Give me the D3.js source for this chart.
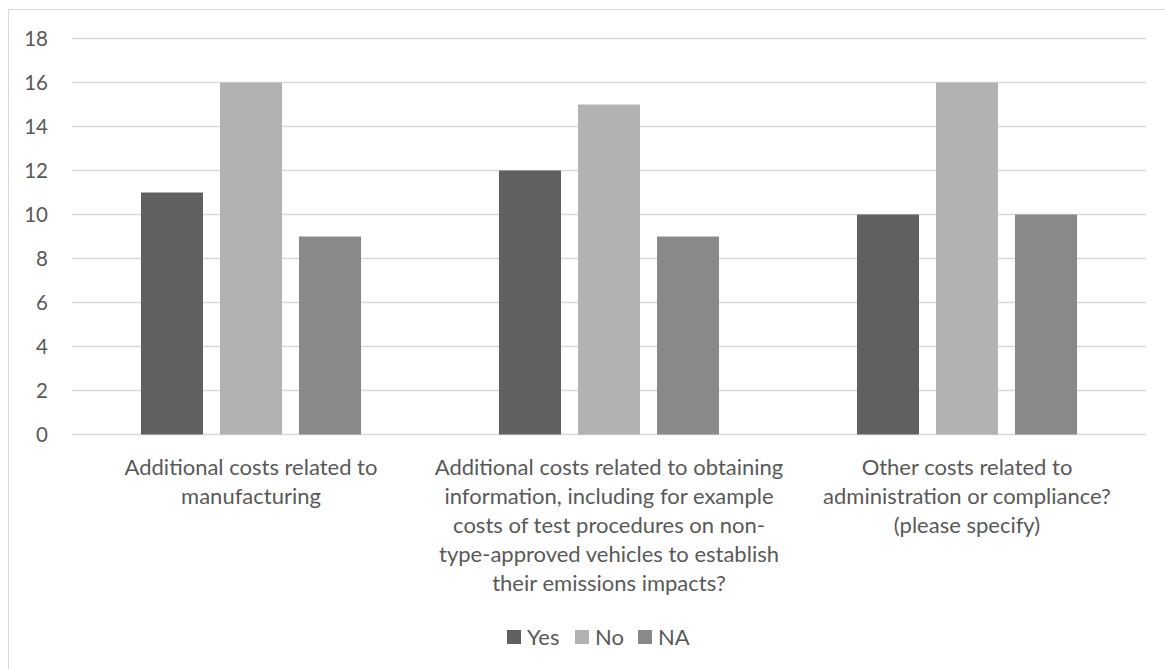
<!DOCTYPE html>
<html><head><meta charset="utf-8">
<script src="https://cdn.jsdelivr.net/npm/d3@7"></script>
<style>body{margin:0;background:#fff}svg{display:block}text{font-family:Lato,"Liberation Sans",sans-serif;fill:#595959}</style>
</head><body><svg id="c" width="1165" height="669"></svg>
<script>
const categories = ["Additional costs related to manufacturing",
  "Additional costs related to obtaining information, including for example costs of test procedures on non-type-approved vehicles to establish their emissions impacts?",
  "Other costs related to administration or compliance? (please specify)"];
const categoryLines = [
  ["Additional costs related to","manufacturing"],
  ["Additional costs related to obtaining","information, including for example","costs of test procedures on non-","type-approved vehicles to establish","their emissions impacts?"],
  ["Other costs related to","administration or compliance?","(please specify)"]
];
const seriesNames = ["Yes","No","NA"];
const yesValues = [11,12,10];
const noValues = [16,15,16];
const naValues = [9,9,10];
const yTicks = [0,2,4,6,8,10,12,14,16,18];
const colors = ["#606060","#b2b2b2","#898989"];

const series = [yesValues, noValues, naValues];
const svg = d3.select("#c");
const W = 1165, H = 669;
const mLeft = 72, mRight = 1146, mTop = 38.5, mBottom = 434.5;
const fs = 22, tickFs = 20.5;

svg.append("rect").attr("x",8.5).attr("y",9.5).attr("width",W).attr("height",H)
  .attr("fill","none").attr("stroke","#d9d9d9").attr("stroke-width",1);

const x0 = d3.scaleBand().domain(d3.range(categories.length)).range([mLeft,mRight]).padding(0);
const x1 = d3.scaleBand().domain(d3.range(seriesNames.length)).range([0,x0.bandwidth()])
  .paddingInner(0.215).paddingOuter(0.873);
const y = d3.scaleLinear().domain([0,18]).range([mBottom,mTop]);

svg.append("g").selectAll("line").data(yTicks).join("line")
  .attr("x1",mLeft).attr("x2",mRight)
  .attr("y1",d=>y(d)).attr("y2",d=>y(d))
  .attr("stroke","#d9d9d9").attr("stroke-width",1.3);

svg.append("g").selectAll("text").data(yTicks).join("text")
  .attr("x",48).attr("y",d=>y(d)).attr("dy","0.35em")
  .attr("text-anchor","end").style("font-size",tickFs+"px").text(d=>d);

const g = svg.append("g");
categories.forEach((c,i)=>{
  g.selectAll(null).data(series.map((s,k)=>({k, v:s[i]}))).join("rect")
    .attr("x",d=>x0(i)+x1(d.k)).attr("width",x1.bandwidth())
    .attr("y",d=>y(d.v)).attr("height",d=>y(0)-y(d.v))
    .attr("fill",d=>colors[d.k]);
});

const lh = 29;
categoryLines.forEach((lines,i)=>{
  svg.append("g").selectAll("text").data(lines).join("text")
    .attr("x",x0(i)+x0.bandwidth()/2).attr("y",(d,j)=>467+j*lh).attr("dy","0.35em")
    .attr("text-anchor","middle").style("font-size",fs+"px").text(d=>d);
});

const lg = svg.append("g");
const legX = [507,575,638];
seriesNames.forEach((n,k)=>{
  lg.append("rect").attr("x",legX[k]).attr("y",630).attr("width",14).attr("height",14).attr("fill",colors[k]);
  lg.append("text").attr("x",legX[k]+20).attr("y",637).attr("dy","0.35em")
    .style("font-size",fs+"px").text(n);
});
</script></body></html>
